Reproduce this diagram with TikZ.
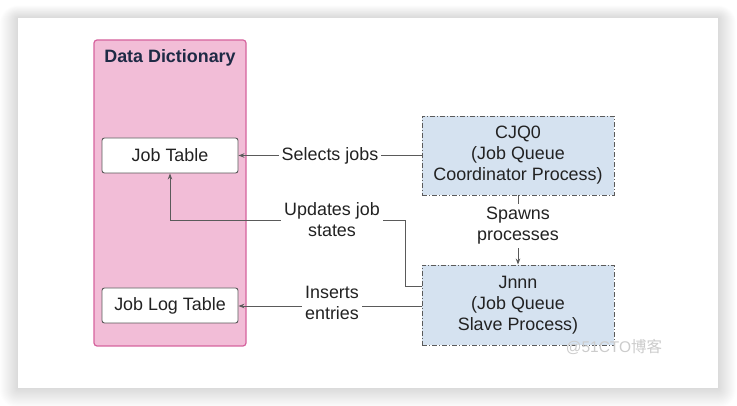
\documentclass[tikz,border=0pt]{standalone}
\usepackage{fontspec}
\setmainfont{Liberation Sans}
\newfontfamily\cjkfont{Noto Sans CJK SC}
\usetikzlibrary{arrows.meta}
\definecolor{ddfill}{HTML}{F2BDD7}
\definecolor{dddraw}{HTML}{D6639E}
\definecolor{procfill}{HTML}{D5E2F0}
\definecolor{linegray}{HTML}{5A5A5A}
\definecolor{txt}{HTML}{222222}
\definecolor{titletxt}{HTML}{1E2A45}
\tikzset{
  base/.style={font=\fontsize{17.9}{21}\selectfont, text=txt},
  ddbox/.style={draw=dddraw, fill=ddfill, line width=1.2pt, rounded corners=3pt, minimum width=152pt, minimum height=306pt, inner sep=0pt},
  tablebox/.style={base, draw=linegray, fill=white, line width=0.9pt, rounded corners=2.5pt, minimum width=136pt, minimum height=35pt, inner sep=0pt},
  procbox/.style={base, draw=linegray, fill=procfill, line width=0.9pt, dash pattern=on 5pt off 2pt on 1pt off 2pt, minimum width=192pt, minimum height=79pt, align=center, inner sep=0pt},
  conn/.style={draw=linegray, line width=0.9pt, -{Stealth[length=6pt,width=4.5pt]}},
  lbl/.style={base, fill=white, align=center, inner sep=3pt},
}
\begin{document}
\begin{tikzpicture}[x=1pt, y=-1pt]
\useasboundingbox (0,0) rectangle (737,406);
% card shadow
\foreach \i in {1,...,18} {
  \fill[black, fill opacity=0.006, rounded corners=\i pt] (18-\i,18-\i*0.7) rectangle (718+\i,388+\i*1.1);
}
\fill[white] (18,18) rectangle (718,388);

% data dictionary
\node[ddbox] (dd) at (170,193) {};
\node[font=\bfseries\fontsize{17.9}{21}\selectfont, text=titletxt] (ddtitle) at (170,58) {Data Dictionary};
\node[tablebox] (jt) at (170,155.5) {Job Table};
\node[tablebox] (jlt) at (170,305.5) {Job Log Table};

% processes
\node[procbox] (cjq) at (518,155.5) {CJQ0\\(Job Queue\\Coordinator Process)};
\node[procbox, minimum height=80pt] (jnnn) at (518,305) {Jnnn\\(Job Queue\\Slave Process)};

% connectors
\draw[conn] (cjq.west) -- (jt.east) node[lbl, pos=0.5] (l1) {Selects jobs};
\coordinate (u1) at (405,286);
\coordinate (u2) at (405,220);
\coordinate (u3) at (170,220);
\draw[conn] ([yshift=19pt]jnnn.west) -- (u1) -- (u2) -- (u3) -- (jt.south);
\node[lbl] (l2) at (332,220) {Updates job\\states};
\draw[conn] ([yshift=-1pt]jnnn.west) -- ([yshift=-0.5pt]jlt.east);
\node[lbl] (l3) at (332,302.5) {Inserts\\entries};
\draw[conn] (cjq.south) -- (jnnn.north);
\node[lbl] (l4) at (518,226) {Spawns\\processes};

% watermark
\node[text=black!20, font=\fontsize{15.5}{18}\selectfont, inner sep=0pt] (wm) at (614,347) {@51CTO{\cjkfont 博客}};
\end{tikzpicture}
\end{document}
